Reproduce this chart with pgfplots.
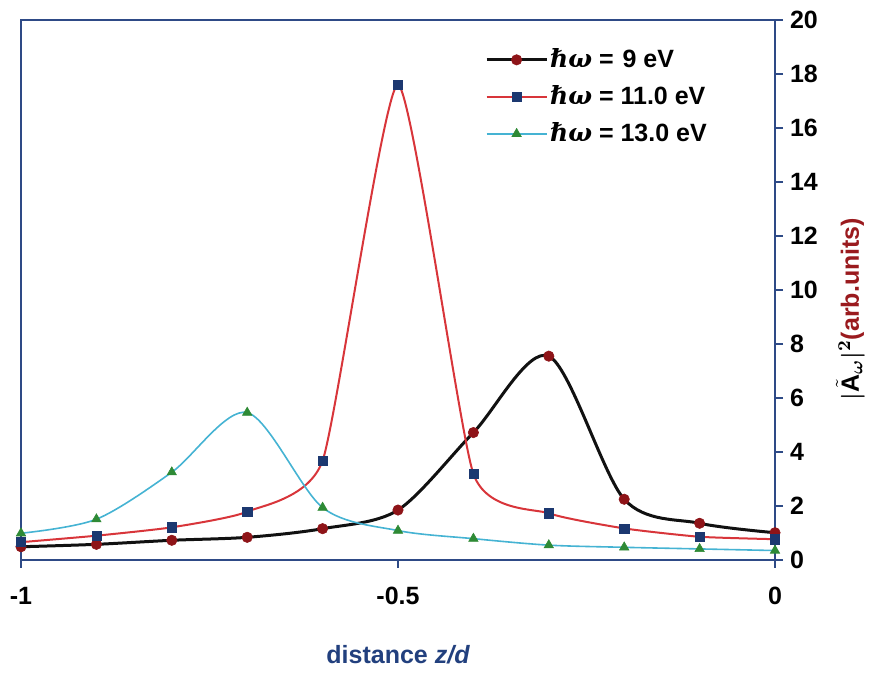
\documentclass[border=0pt]{standalone}
\usepackage{fontspec}
\setmainfont{Liberation Sans}
\newfontfamily\symfont{DejaVu Serif}
\usepackage{bm}
\usepackage{pgfplots}
\usepackage{pgfplotstable}
\pgfplotsset{compat=1.18}

\definecolor{frame}{HTML}{2E4A86}
\definecolor{curveA}{HTML}{111111}
\definecolor{markA}{HTML}{8E1418}
\definecolor{curveB}{HTML}{D8353A}
\definecolor{markB}{HTML}{1C3870}
\definecolor{curveC}{HTML}{45B3D3}
\definecolor{markC}{HTML}{2E8A35}
\definecolor{labelblue}{HTML}{22407E}
\definecolor{labelred}{HTML}{9A1A1E}

% |A_omega|^2 versus z/d for three photon energies
\pgfplotstableread{
z     nine   eleven  thirteen
-1.0  0.49   0.66    0.99
-0.9  0.58   0.90    1.51
-0.8  0.73   1.21    3.25
-0.7  0.84   1.79    5.46
-0.6  1.16   3.68    1.94
-0.5  1.85   17.6    1.09
-0.4  4.72   3.19    0.79
-0.3  7.55   1.73    0.55
-0.2  2.25   1.17    0.47
-0.1  1.36   0.86    0.41
 0.0  1.01   0.77    0.35
}\fielddata

\newcommand{\hw}{{\symfont\bfseries\itshape ℏω}}

\begin{document}
\begin{tikzpicture}
\begin{axis}[
  scale only axis,
  width=377pt, height=270pt,
  xmin=-1, xmax=0, ymin=0, ymax=20,
  axis line style={frame, line width=0.8pt},
  xtick={-1,-0.5,0},
  xticklabels={-1,-0.5,0},
  ytick={0,2,...,20},
  xtick pos=bottom,
  ytick pos=right,
  yticklabel pos=right,
  tick align=outside,
  major tick length=4pt,
  tick style={frame, line width=0.8pt},
  /pgf/number format/assume math mode=true,
  ticklabel style={font=\bfseries\fontsize{12.5}{14}\selectfont},
  xticklabel style={yshift=-6pt},
  every axis x label/.style={at={(axis description cs:0.5,-0.176)}, anchor=center},
  every axis y label/.style={at={(axis description cs:1.1,0.465)}, rotate=90, anchor=center},
  xlabel={\color{labelblue}\bfseries\fontsize{12.5}{14}\selectfont distance \itshape z/d},
  ylabel={\bfseries\fontsize{12.5}{14}\selectfont $\bm{|\tilde{\mathrm{A}}_{\omega}|^{2}}$\color{labelred}(arb.units)},
  legend style={at={(axis description cs:0.615,0.951)}, anchor=north west,
    draw=none, fill=none, inner sep=0pt, row sep=5.5pt,
    font=\bfseries\fontsize{12.5}{14}\selectfont,
    nodes={inner sep=1pt}},
  legend cell align=left,
  legend image code/.code={
    \draw[mark repeat=2, mark phase=2] plot coordinates {(0pt,0pt) (15pt,0pt) (30pt,0pt)};},
  clip=false,
]
\addplot[curveA, line width=1.5pt, smooth, tension=0.5,
  mark=*, mark size=2.6pt, mark options={solid, fill=markA, draw=markA, line width=0.3pt}]
  table[x=z, y=nine] {\fielddata};
\addlegendentry{\hw{} =\hspace{4.5pt}9 eV}

\addplot[curveB, line width=1pt, smooth, tension=0.32,
  mark=square*, mark size=2.3pt, mark options={solid, fill=markB, draw=markB, line width=0.3pt}]
  table[x=z, y=eleven] {\fielddata};
\addlegendentry{\hw{} = 11.0 eV}

\addplot[curveC, line width=0.8pt, smooth, tension=0.5,
  mark=triangle*, mark size=2.7pt, mark options={solid, fill=markC, draw=markC, line width=0.3pt}]
  table[x=z, y=thirteen] {\fielddata};
\addlegendentry{\hw{} = 13.0 eV}
\end{axis}
% fixed page margins around the plot box
\path ([shift={(-10.5pt,-56.5pt)}]current axis.south west)
  rectangle ([shift={(57pt,10pt)}]current axis.north east);
\end{tikzpicture}
\end{document}
